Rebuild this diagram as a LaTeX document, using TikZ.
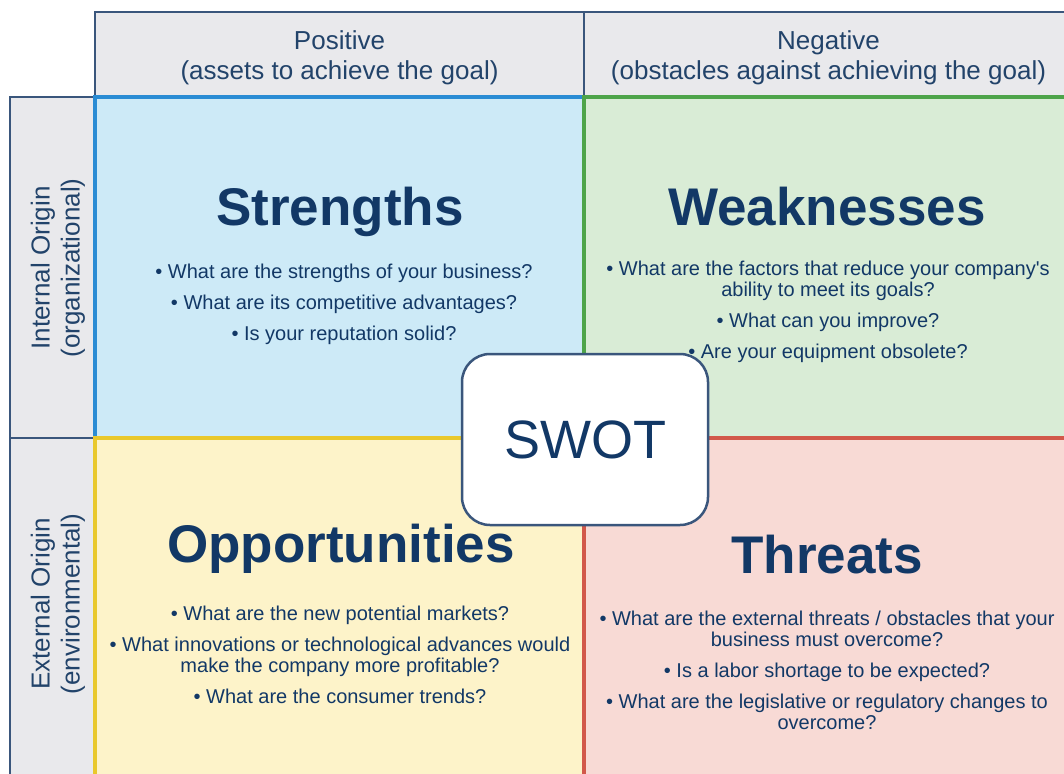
\documentclass[tikz,border=0pt]{standalone}
\usepackage{fontspec}
\setmainfont{Liberation Sans}
\usetikzlibrary{positioning}

\definecolor{navy}{RGB}{18,56,102}
\definecolor{slate}{RGB}{58,86,124}
\definecolor{headfill}{RGB}{233,233,236}
\definecolor{strfill}{RGB}{205,234,247}
\definecolor{strline}{RGB}{42,140,212}
\definecolor{weafill}{RGB}{217,236,214}
\definecolor{wealine}{RGB}{78,164,74}
\definecolor{oppfill}{RGB}{253,243,201}
\definecolor{oppline}{RGB}{233,200,44}
\definecolor{thrfill}{RGB}{248,218,213}
\definecolor{thrline}{RGB}{210,88,74}

\tikzset{
  headcell/.style={draw=slate, fill=headfill, line width=2.5pt, inner sep=0pt},
  quad/.style={line width=4pt, inner sep=0pt, minimum width=489pt, minimum height=341pt},
  headtext/.style={text=navy!85!gray, align=center, inner sep=0pt,
    font=\fontsize{26}{30}\selectfont},
  title/.style={text=navy, inner sep=0pt, font=\fontsize{53}{60}\selectfont\bfseries},
  bullets/.style={text=navy, align=center, inner sep=0pt,
    font=\fontsize{20}{21}\selectfont},
}

\begin{document}
\begin{tikzpicture}[x=1pt, y=-1pt]
        \clip (0,0) rectangle (1064,773);
        \fill[white] (0,0) rectangle (1064,773);

        % column and row headers
        \node[headcell, minimum width=489pt, minimum height=84pt] (pos) at (339.5,54) {};
        \node[headcell, minimum width=489pt, minimum height=84pt] (neg) at (828.5,54) {};
        \node[headcell, minimum width=85pt, minimum height=341pt] (int) at (52.5,267.5) {};
        \node[headcell, minimum width=85pt, minimum height=341pt] (ext) at (52.5,608.5) {};

        \node[headtext] (posT) at (339.5,58) {Positive\\(assets to achieve the goal)};
        \node[headtext] (negT) at (828.5,58) {Negative\\(obstacles against achieving the goal)};
        \node[headtext, rotate=90] (intT) at (58,268) {Internal Origin\\(organizational)};
        \node[headtext, rotate=90] (extT) at (58,604) {External Origin\\(environmental)};

        % the four quadrants
        \node[quad, draw=strline, fill=strfill] (str) at (339.5,267.5) {};
        \node[quad, draw=wealine, fill=weafill] (wea) at (828.5,267.5) {};
        \node[quad, draw=oppline, fill=oppfill] (opp) at (339.5,608.5) {};
        \node[quad, draw=thrline, fill=thrfill] (thr) at (828.5,608.5) {};

        \node[title] (strT) at (340,212) {Strengths};
        \node[title] (weaT) at (827,207) {Weaknesses};
        \node[title] (oppT) at (341,549) {Opportunities};
        \node[title] (thrT) at (827,555) {Threats};

        \node[bullets] (strB) at (344,304) {%
          \textbullet\ What are the strengths of your business?\\[10pt]
          \textbullet\ What are its competitive advantages?\\[10pt]
          \textbullet\ Is your reputation solid?};
        \node[bullets] (weaB) at (828,312) {%
          \textbullet\ What are the factors that reduce your company\textquotesingle s\\
          ability to meet its goals?\\[10pt]
          \textbullet\ What can you improve?\\[10pt]
          \textbullet\ Are your equipment obsolete?};
        \node[bullets] (oppB) at (340,655) {%
          \textbullet\ What are the new potential markets?\\[10pt]
          \textbullet\ What innovations or technological advances would\\
          make the company more profitable?\\[10pt]
          \textbullet\ What are the consumer trends?};
        \node[bullets] (thrB) at (827,670) {%
          \textbullet\ What are the external threats / obstacles that your\\
          business must overcome?\\[10pt]
          \textbullet\ Is a labor shortage to be expected?\\[10pt]
          \textbullet\ What are the legislative or regulatory changes to\\
          overcome?};

        % centre badge
        \node[draw=slate, fill=white, line width=2.5pt, rounded corners=28pt,
              minimum width=246pt, minimum height=171pt, text=navy,
              font=\fontsize{54}{60}\selectfont] (swot) at (585,439.5) {SWOT};

        \end{tikzpicture}
\end{document}
